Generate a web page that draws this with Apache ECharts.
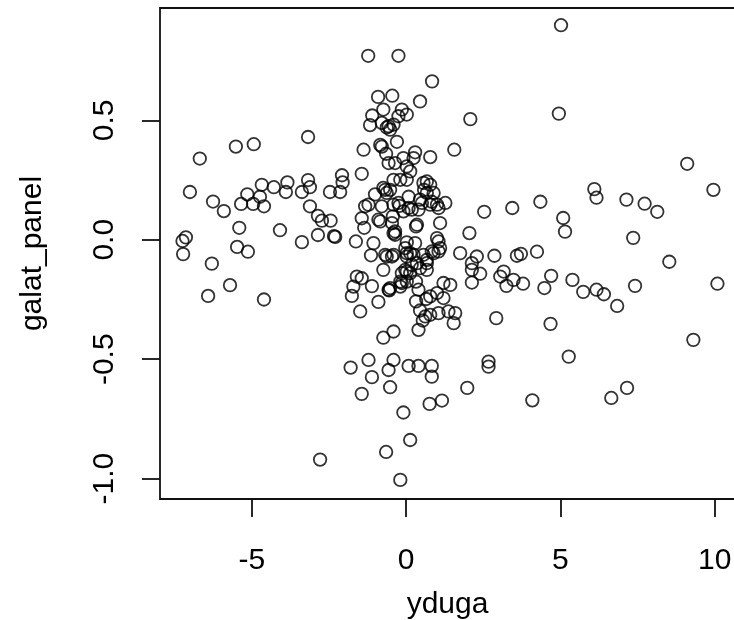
<!DOCTYPE html>
<html>
<head>
<meta charset="utf-8">
<title>galat_panel vs yduga</title>
<script src="https://cdn.jsdelivr.net/npm/echarts@6/dist/echarts.min.js"></script>
<style>
  html, body { margin: 0; padding: 0; background: #fff; }
  #chart { width: 734px; height: 620px; }
</style>
</head>
<body>
<div id="chart"></div>
<script>
// yduga values (x)
const xValues = [
  -6.69, -5.52, -4.94, -3.18, -7.01, -6.26, -5.91, -5.15, -5.35, -4.96,
  -4.61, -4.74, -4.68, -4.29, -3.85, -3.90, -3.38, -3.18, -3.12, -3.12,
  -2.86, -2.73, -2.45, -2.47, -2.14, -2.08, -2.06, -5.41, -4.09, -3.38,
  -2.86, -2.34, -2.30, -7.14, -7.25, -7.23, -5.48, -5.13, -6.30, -5.71,
  -6.42, -4.61, -2.79,
  -1.76, -1.80, -1.23, -1.10, -1.17, -1.38, -1.44, -1.01, -1.22, -1.33,
  -1.44, -1.36, -1.63, -1.06, -1.14, -1.60, -1.44, -1.71, -1.11, -1.49,
  -1.22, -1.11, -1.44,
  -0.25, -0.91, -0.45, -0.74, -0.14, -0.25, -0.79, -0.57, -0.52, -0.41,
  -0.63, -0.30, -0.84, -0.79, -0.65, -0.09, -0.57, -0.36, -0.74, -0.41,
  -0.19, -0.68, -0.63, -0.52, -0.79, -0.41, -0.25, -0.22, -0.09, -0.90,
  -0.84, -0.43, -0.46, -0.41, -0.36, -0.36, -0.68, -0.46, -0.41, -0.63,
  -0.03, -0.74, -0.14, -0.03, -0.14, -0.19, -0.19, -0.90, -0.57, -0.52,
  -0.55, -0.74, -0.41, -0.57, -0.41, -0.52, -0.09, -0.65, -0.19,
  0.84, 0.45, 0.02, 1.56, 0.29, 0.24, 0.78, 0.02, 0.13, 0.02,
  0.67, 0.56, 0.78, 0.58, 0.67, 0.89, 0.08, 0.45, 0.83, 1.00,
  1.27, 1.05, 0.78, 0.51, 0.40, 0.18, 0.08, 0.35, 0.32, 1.10,
  1.00, 1.05, 1.10, 1.05, 0.02, 0.29, 0.13, 0.02, 0.24, 0.56,
  0.83, 0.67, 0.02, 0.89, 0.35, 0.67, 0.45, 0.67, 1.75, 2.05,
  0.18, 0.02, 0.13, 0.02, 0.32, 0.40, 0.32, 0.45, 0.65, 0.78,
  0.62, 0.78, 0.54, 1.00, 1.21, 1.43, 1.21, 1.05, 1.37, 1.59,
  1.54, 0.40, 0.08, 0.40, 0.83, 0.83, 0.76, 1.16, 1.98, 0.13,
  2.08, 2.13, 2.13,
  5.02, 4.95, 9.11, 9.96, 6.10, 6.17, 7.14, 7.73, 8.14, 4.35,
  3.44, 2.53, 5.09, 5.15, 7.36, 2.29, 2.86, 3.59, 3.72, 4.24,
  8.53, 10.09, 2.40, 2.13, 3.05, 3.16, 3.25, 3.48, 3.79, 4.70,
  4.48, 5.39, 5.74, 6.17, 6.41, 6.84, 7.42, 2.92, 4.68, 9.31,
  5.27, 2.67, 2.67, 4.09, 6.65, 7.16
];

// galat_panel values (y), same order as xValues
const yValues = [
  0.34, 0.39, 0.40, 0.43, 0.20, 0.16, 0.12, 0.19, 0.15, 0.15,
  0.14, 0.18, 0.23, 0.22, 0.24, 0.20, 0.20, 0.25, 0.22, 0.14,
  0.10, 0.08, 0.08, 0.20, 0.20, 0.27, 0.24, 0.05, 0.04, -0.01,
  0.02, 0.015, 0.012, 0.01, -0.005, -0.06, -0.03, -0.05, -0.10, -0.19,
  -0.235, -0.25, -0.92,
  -0.235, -0.535, 0.77, 0.52, 0.48, 0.377, 0.276, 0.19, 0.147, 0.14,
  0.09, 0.05, -0.007, -0.014, -0.065, -0.154, -0.161, -0.196, -0.194, -0.30,
  -0.503, -0.575, -0.645,
  0.77, 0.598, 0.603, 0.545, 0.545, 0.517, 0.489, 0.475, 0.461, 0.482,
  0.47, 0.41, 0.397, 0.39, 0.36, 0.342, 0.321, 0.321, 0.217, 0.251,
  0.251, 0.209, 0.196, 0.209, 0.14, 0.147, 0.154, 0.142, 0.119, 0.084,
  0.077, 0.098, 0.07, 0.028, 0.035, 0.021, -0.063, -0.07, -0.063, -0.07,
  -0.035, -0.126, -0.14, -0.126, -0.181, -0.196, -0.175, -0.26, -0.209, -0.202,
  -0.212, -0.41, -0.384, -0.545, -0.503, -0.617, -0.723, -0.888, -1.005,
  0.663, 0.579, 0.524, 0.377, 0.366, 0.342, 0.346, 0.307, 0.286, 0.251,
  0.244, 0.238, 0.23, 0.209, 0.196, 0.196, 0.18, 0.168, 0.159, 0.147,
  0.154, 0.133, 0.147, 0.154, 0.126, 0.126, 0.133, 0.063, 0.056, 0.07,
  0.007, -0.007, -0.035, -0.049, -0.011, -0.014, -0.056, -0.056, -0.063, -0.063,
  -0.049, -0.084, -0.07, -0.056, -0.098, -0.098, -0.119, -0.126, -0.056, 0.028,
  -0.105, -0.133, -0.14, -0.175, -0.175, -0.209, -0.258, -0.296, -0.248, -0.237,
  -0.321, -0.314, -0.338, -0.223, -0.181, -0.189, -0.244, -0.307, -0.30, -0.307,
  -0.349, -0.377, -0.528, -0.528, -0.528, -0.573, -0.687, -0.673, -0.62, -0.838,
  0.505, -0.098, -0.179,
  0.898, 0.528, 0.318, 0.209, 0.212, 0.176, 0.168, 0.151, 0.117, 0.159,
  0.133, 0.117, 0.091, 0.034, 0.008, -0.07, -0.067, -0.067, -0.059, -0.05,
  -0.092, -0.184, -0.142, -0.126, -0.154, -0.133, -0.193, -0.168, -0.184, -0.151,
  -0.202, -0.168, -0.218, -0.209, -0.228, -0.277, -0.193, -0.328, -0.352, -0.419,
  -0.489, -0.51, -0.531, -0.672, -0.662, -0.62
];

const xTicks = [-5, 0, 5, 10];
const yTicks = [-1.0, -0.5, 0.0, 0.5];

const points = xValues.map((x, i) => [x, yValues[i]]);

const chart = echarts.init(document.getElementById('chart'), null, { renderer: 'canvas' });

const font = 'Liberation Sans, Arial, sans-serif';

const option = {
  animation: false,
  backgroundColor: '#fff',
  grid: {
    left: 160,
    top: 8,
    right: -1,
    bottom: 121,
    outerBoundsMode: 'none',
    containLabel: false,
    show: true,
    borderColor: '#111',
    borderWidth: 1.8
  },
  xAxis: {
    type: 'value',
    min: -7.98,
    max: 10.66,
    name: 'yduga',
    nameLocation: 'middle',
    nameGap: 91,
    nameTextStyle: { fontSize: 30, color: '#000', fontFamily: font },
    axisLine: { show: false, onZero: false },
    splitLine: { show: false },
    axisTick: {
      show: true,
      customValues: xTicks,
      length: 18,
      lineStyle: { color: '#111', width: 1.8 }
    },
    axisLabel: {
      customValues: xTicks,
      fontSize: 30,
      color: '#000',
      fontFamily: font,
      margin: 47
    }
  },
  yAxis: {
    type: 'value',
    min: -1.085,
    max: 0.97,
    name: 'galat_panel',
    nameLocation: 'middle',
    nameGap: 112,
    nameTextStyle: { fontSize: 30, color: '#000', fontFamily: font },
    axisLine: { show: false, onZero: false },
    splitLine: { show: false },
    axisTick: {
      show: true,
      customValues: yTicks,
      length: 18,
      lineStyle: { color: '#111', width: 1.8 }
    },
    axisLabel: {
      customValues: yTicks,
      rotate: 90,
      fontSize: 30,
      color: '#000',
      fontFamily: font,
      margin: 40,
      formatter: v => v.toFixed(1)
    }
  },
  series: [
    {
      type: 'scatter',
      data: points,
      symbol: 'circle',
      symbolSize: 12.5,
      itemStyle: {
        color: 'rgba(0,0,0,0)',
        borderColor: '#000',
        borderWidth: 1.8
      },
      emphasis: { disabled: true },
      silent: true
    }
  ]
};

chart.setOption(option);
</script>
</body>
</html>
